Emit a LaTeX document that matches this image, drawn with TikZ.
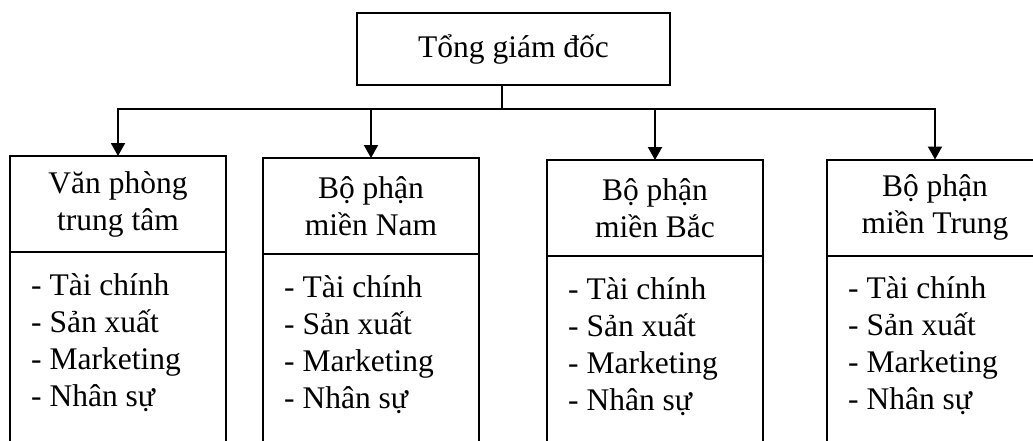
\documentclass[tikz,border=0pt]{standalone}
\usepackage{fontspec}
\setmainfont{Liberation Serif}
\usetikzlibrary{positioning,arrows.meta}
\tikzset{>={Triangle[width=14pt,length=13pt]}}
\tikzset{
  box/.style = {draw, line width=2pt, outer sep=0pt, inner sep=0pt, minimum width=216pt, align=center},
  head/.style = {box, minimum height=96pt},
  body/.style = {box, minimum height=240pt},
  items/.style = {align=left, inner sep=0pt, anchor=north west},
  link/.style = {line width=2pt}
}

\begin{document}
\begin{tikzpicture}[x=1pt,y=-1pt,font=\fontsize{31.5}{37}\selectfont]
  \useasboundingbox (0,0) rectangle (1033,440);
  \clip (0,0) rectangle (1033,440);
  % general director
  \node (ceo) at (513.5,49) [box, minimum width=313pt, minimum height=72pt] {Tổng giám đốc};
  % division headers
  \node (vp) at (118,204) [head] {Văn phòng\\trung tâm};
  \node (nam) at (371,206) [head] {Bộ phận\\miền Nam};
  \node (bac) at (655,208) [head] {Bộ phận\\miền Bắc};
  \node (trung) at (935,207.5) [head] {Bộ phận\\miền Trung};
  % division bodies
  \node (vpbody) [body, below=0pt of vp] {};
  \node (nambody) [body, below=0pt of nam] {};
  \node (bacbody) [body, below=0pt of bac] {};
  \node (trungbody) [body, below=0pt of trung] {};
  % functions
  \node (vplist) at ([shift={(21,21)}]vpbody.north west) [items] {- Tài chính\\- Sản xuất\\- Marketing\\- Nhân sự};
  \node (namlist) at ([shift={(21,21)}]nambody.north west) [items] {- Tài chính\\- Sản xuất\\- Marketing\\- Nhân sự};
  \node (baclist) at ([shift={(21,21)}]bacbody.north west) [items] {- Tài chính\\- Sản xuất\\- Marketing\\- Nhân sự};
  \node (trunglist) at ([shift={(21,21)}]trungbody.north west) [items] {- Tài chính\\- Sản xuất\\- Marketing\\- Nhân sự};
  % connectors
  \coordinate (bus) at (502,109);
  \draw[link] (ceo.south -| bus) -- (bus);
  \draw[link,<->] (vp.north) -- (bus -| vp.north) -- (bus -| trung.north) -- (trung.north);
  \draw[link,->] (bus -| nam.north) -- (nam.north);
  \draw[link,->] (bus -| bac.north) -- (bac.north);
\end{tikzpicture}
\end{document}
